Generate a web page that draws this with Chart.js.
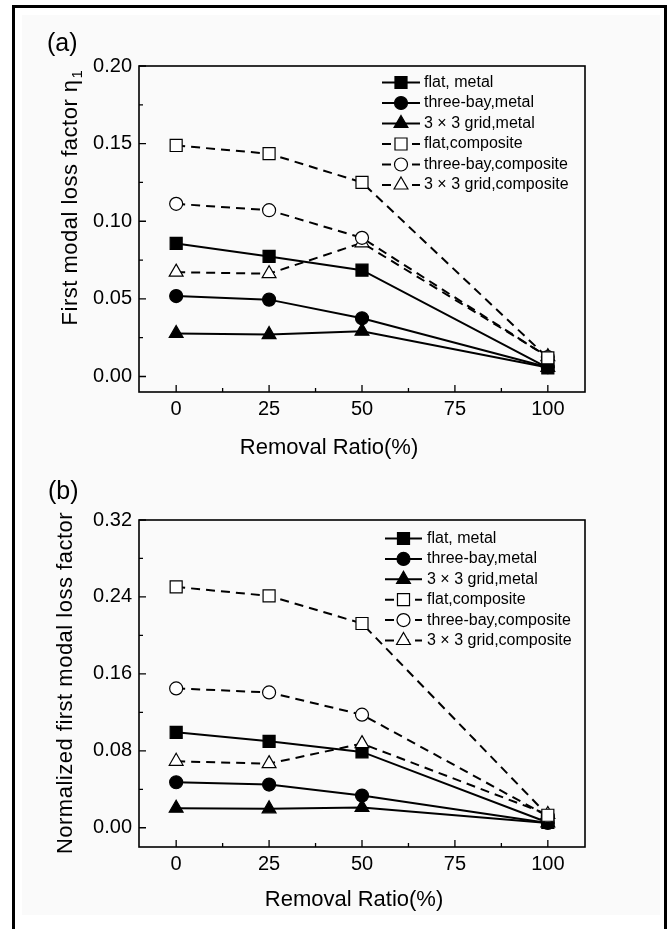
<!DOCTYPE html>
<html>
<head>
<meta charset="utf-8">
<title>Loss factor vs removal ratio</title>
<script src="https://cdn.jsdelivr.net/npm/chart.js@4.4.1/dist/chart.umd.min.js"></script>
<style>
  html, body { margin: 0; padding: 0; background: #fff; }
  body { position: relative; width: 672px; height: 929px; overflow: hidden;
         font-family: 'Liberation Sans', Arial, sans-serif; }
  .frame { position: absolute; left: 12px; top: 5px; width: 655px; height: 960px;
           border: 3px solid #000; box-sizing: border-box; }
  .paper { position: absolute; left: 22px; top: 15px; width: 638px; height: 900px; background: #fafafa; }
  .panel { position: absolute; left: 0; width: 672px; }
  .tag { position: absolute; font-size: 25px; line-height: 25px; color: #000; }
</style>
</head>
<body>
<div class="frame"></div>
<div class="paper"></div>
<div class="panel" style="top:0;height:464px"><canvas id="chartA" width="672" height="464"></canvas></div>
<div class="panel" style="top:464px;height:465px"><canvas id="chartB" width="672" height="465"></canvas></div>
<div class="tag" style="left:47px;top:30px">(a)</div>
<div class="tag" style="left:48px;top:478px">(b)</div>

<script>
// removal ratio (%) on the x axis
const removalRatio = [0, 25, 50, 100];

const seriesNames = [
    'flat, metal',
    'three-bay,metal',
    '3 × 3 grid,metal',
    'flat,composite',
    'three-bay,composite',
    '3 × 3 grid,composite'
];

// (a) first modal loss factor
const lossFlatMetal = [0.0857, 0.0773, 0.0685, 0.0055];
const lossBayMetal  = [0.0518, 0.0495, 0.0375, 0.0060];
const lossGridMetal = [0.0277, 0.0270, 0.0292, 0.0058];
const lossFlatComp  = [0.1488, 0.1435, 0.1250, 0.0120];
const lossBayComp   = [0.1112, 0.1071, 0.0893, 0.0125];
const lossGridComp  = [0.0672, 0.0662, 0.0861, 0.0128];

// (b) normalized first modal loss factor
const normFlatMetal = [0.0992, 0.0899, 0.0789, 0.0055];
const normBayMetal  = [0.0473, 0.0449, 0.0335, 0.0050];
const normGridMetal = [0.0203, 0.0197, 0.0211, 0.0050];
const normFlatComp  = [0.2504, 0.2411, 0.2124, 0.0130];
const normBayComp   = [0.1449, 0.1407, 0.1176, 0.0120];
const normGridComp  = [0.0691, 0.0667, 0.0875, 0.0138];

const FONT = "'Liberation Sans', Arial, sans-serif";
Chart.defaults.font.family = FONT;
Chart.defaults.color = '#000';

const markerShapes = ['rect', 'circle', 'triangle', 'rect', 'circle', 'triangle'];
const markerRadius = { rect: 8.5, circle: 6.5, triangle: 8 };

function isStep(v, step) {
    const q = v / step;
    return Math.abs(q - Math.round(q)) < 1e-6;
}

// tick values from..to every step (minor and major together)
function stepList(from, to, step) {
    const out = [];
    for (let k = 0; from + k * step <= to + 1e-9; k++) {
        out.push({ value: +(from + k * step).toFixed(4) });
    }
    return out;
}

function buildDatasets(series) {
    return series.map((vals, i) => {
        const open = i >= 3;   // composite panels: dashed line, hollow marker
        const shape = markerShapes[i];
        return {
            label: seriesNames[i],
            data: removalRatio.map((x, k) => ({ x: x, y: vals[k] })),
            borderColor: '#000',
            borderWidth: 2,
            borderDash: open ? [9, 6] : [],
            pointStyle: shape,
            pointRadius: markerRadius[shape],
            pointBackgroundColor: open ? '#fff' : '#000',
            pointBorderColor: '#000',
            pointBorderWidth: 1.2,
            tension: 0,
            fill: false,
            order: open ? 0 : 1
        };
    });
}

// plot box plus short inward tick marks (major and minor)
const frameTicks = {
    id: 'frameTicks',
    beforeDatasetsDraw(chart, args, o) {
        const { ctx, chartArea: a, scales } = chart;
        ctx.save();
        ctx.strokeStyle = '#000';
        ctx.lineWidth = 1.6;
        ctx.strokeRect(a.left, a.top, a.right - a.left, a.bottom - a.top);
        ctx.lineWidth = 1.3;
        ctx.beginPath();
        scales.x.ticks.forEach(t => {
            const px = scales.x.getPixelForValue(t.value);
            const len = isStep(t.value, o.xMinor * 2) ? 7 : 4;
            ctx.moveTo(px, a.bottom);
            ctx.lineTo(px, a.bottom - len);
        });
        scales.y.ticks.forEach(t => {
            const py = scales.y.getPixelForValue(t.value);
            const len = isStep(t.value, o.yMinor * 2) ? 7 : 4;
            ctx.moveTo(a.left, py);
            ctx.lineTo(a.left + len, py);
        });
        ctx.stroke();
        ctx.restore();
    }
};

// axis titles; the vertical one may carry a subscript
const axisTitles = {
    id: 'axisTitles',
    afterDraw(chart, args, o) {
        const ctx = chart.ctx;
        ctx.save();
        ctx.fillStyle = '#000';
        ctx.font = o.size + 'px ' + FONT;
        ctx.textAlign = 'center';
        ctx.textBaseline = 'middle';
        ctx.fillText(o.xText, o.xAt[0], o.xAt[1]);

        ctx.translate(o.yAt[0], o.yAt[1]);
        ctx.rotate(-Math.PI / 2);
        ctx.letterSpacing = '0.5px';
        ctx.textAlign = 'left';
        ctx.textBaseline = 'alphabetic';
        const mainW = ctx.measureText(o.yText).width;
        let subW = 0;
        if (o.ySub) {
            ctx.font = o.subSize + 'px ' + FONT;
            subW = ctx.measureText(o.ySub).width;
        }
        const start = -(mainW + subW) / 2;
        ctx.font = o.size + 'px ' + FONT;
        ctx.fillText(o.yText, start, 0);
        if (o.ySub) {
            ctx.font = o.subSize + 'px ' + FONT;
            ctx.fillText(o.ySub, start + mainW + 1, 5);
        }
        ctx.restore();
    }
};

// line+marker key in the upper right of the plot
const seriesKey = {
    id: 'seriesKey',
    afterDraw(chart, args, o) {
        const ctx = chart.ctx;
        ctx.save();
        chart.data.datasets.forEach((ds, i) => {
            const y = o.top + i * o.rowGap;
            ctx.strokeStyle = '#000';
            ctx.lineWidth = 2;
            ctx.setLineDash(ds.borderDash);
            ctx.beginPath();
            ctx.moveTo(o.left, y);
            ctx.lineTo(o.left + o.sample, y);
            ctx.stroke();
            ctx.setLineDash([]);
            ctx.fillStyle = ds.pointBackgroundColor;
            ctx.lineWidth = ds.pointBorderWidth;
            Chart.helpers.drawPoint(ctx, {
                pointStyle: ds.pointStyle,
                radius: ds.pointRadius,
                borderWidth: ds.pointBorderWidth,
                rotation: 0
            }, o.left + o.sample / 2, y);
            ctx.fillStyle = '#000';
            ctx.font = o.size + 'px ' + FONT;
            ctx.textAlign = 'left';
            ctx.textBaseline = 'middle';
            ctx.fillText(ds.label, o.textX, y);
        });
        ctx.restore();
    }
};

function makeChart(id, series, yMin, yMax, yStep, cfg) {
    return new Chart(document.getElementById(id), {
        type: 'line',
        data: { datasets: buildDatasets(series) },
        options: {
            responsive: false,
            animation: false,
            layout: { padding: { top: cfg.top, right: 87, bottom: 0, left: 0 } },
            plugins: {
                legend: { display: false },
                tooltip: { enabled: false },
                frameTicks: { xMinor: 12.5, yMinor: yStep },
                axisTitles: cfg.titles,
                seriesKey: cfg.key
            },
            scales: {
                x: {
                    type: 'linear',
                    min: -10,
                    max: 110,
                    grid: { display: false, drawTicks: false },
                    border: { display: false },
                    afterBuildTicks: s => { s.ticks = stepList(0, 100, 12.5); },
                    ticks: {
                        autoSkip: false,
                        maxRotation: 0,
                        padding: 5,
                        font: { size: 20 },
                        callback: v => isStep(v, 25) ? String(v) : ''
                    },
                    afterFit: s => { s.height = cfg.xHeight; }
                },
                y: {
                    type: 'linear',
                    min: yMin,
                    max: yMax,
                    grid: { display: false, drawTicks: false },
                    border: { display: false },
                    afterBuildTicks: s => { s.ticks = stepList(0, yMax, yStep); },
                    ticks: {
                        autoSkip: false,
                        padding: 7,
                        font: { size: 20 },
                        callback: v => isStep(v, yStep * 2) ? v.toFixed(2) : ''
                    },
                    afterFit: s => { s.width = 139; }
                }
            }
        },
        plugins: [frameTicks, axisTitles, seriesKey]
    });
}

makeChart('chartA',
    [lossFlatMetal, lossBayMetal, lossGridMetal, lossFlatComp, lossBayComp, lossGridComp],
    -0.01, 0.20, 0.025, {
        top: 66,
        xHeight: 72,
        titles: {
            size: 22, subSize: 15,
            xText: 'Removal Ratio(%)', xAt: [329, 448],
            yText: 'First modal loss factor η', ySub: '1', yAt: [77, 198]
        },
        key: { left: 382, sample: 38, textX: 424, top: 82.5, rowGap: 20.5, size: 16 }
    });

makeChart('chartB',
    [normFlatMetal, normBayMetal, normGridMetal, normFlatComp, normBayComp, normGridComp],
    -0.02, 0.32, 0.04, {
        top: 56,
        xHeight: 82,
        titles: {
            size: 22, subSize: 15,
            xText: 'Removal Ratio(%)', xAt: [354, 436],
            yText: 'Normalized first modal loss factor', ySub: '', yAt: [72, 219]
        },
        key: { left: 385, sample: 37, textX: 427, top: 74.5, rowGap: 20.4, size: 16 }
    });
</script>
</body>
</html>
